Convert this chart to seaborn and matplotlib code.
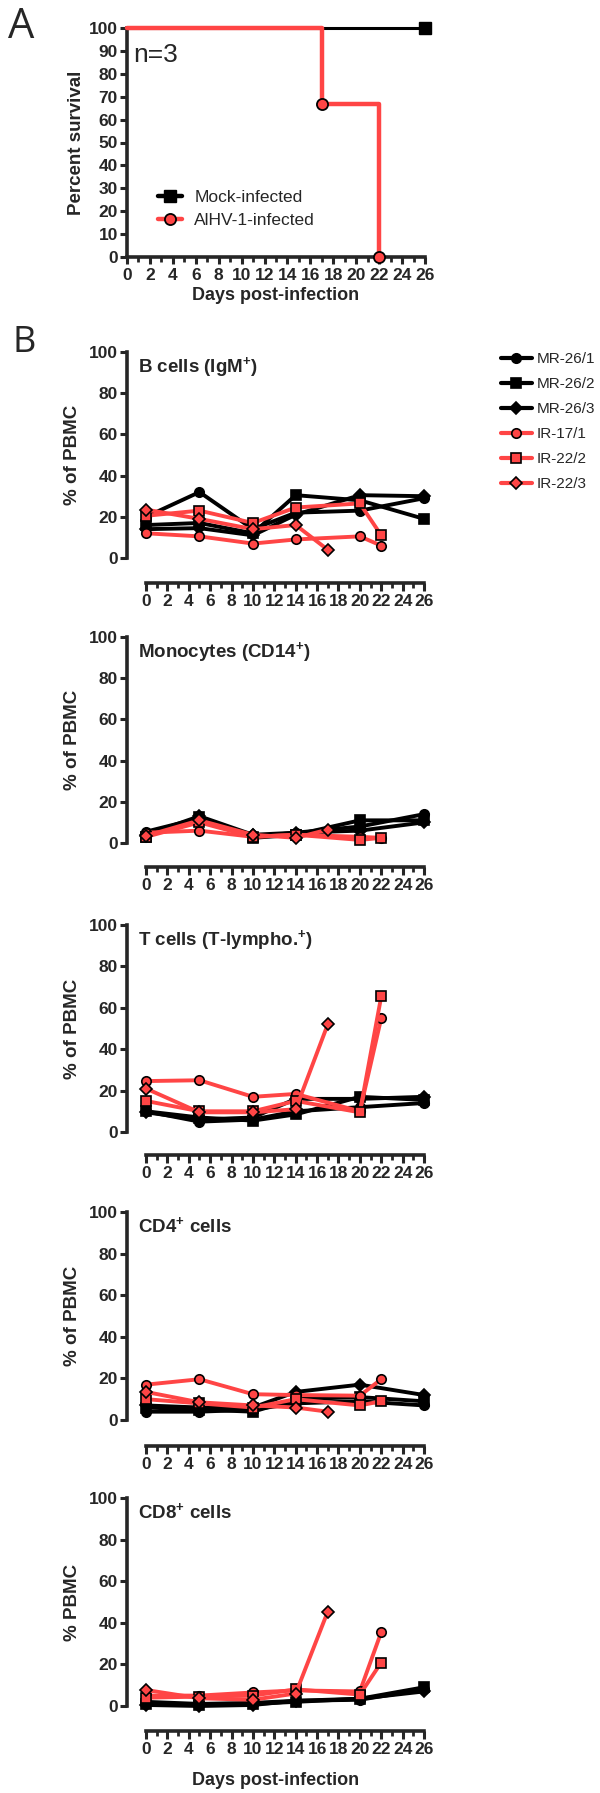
import matplotlib
matplotlib.use("Agg")
import matplotlib.pyplot as plt
import seaborn as sns
import numpy as np
from matplotlib.ticker import MultipleLocator, FixedLocator
from matplotlib.lines import Line2D

# ---------------- DATA ----------------
# Panel A: survival
surv_mock_days = [0, 26]
surv_mock_vals = [100, 100]
surv_inf_days = [0, 17, 17, 22, 22]
surv_inf_vals = [100, 100, 66.7, 66.7, 0]
surv_inf_mark_days = [17, 22]
surv_inf_mark_vals = [66.7, 0]

animals = ["MR-26/1", "MR-26/2", "MR-26/3", "IR-17/1", "IR-22/2", "IR-22/3"]
days_mock = [0, 5, 10, 14, 20, 26]
days_ir = [0, 5, 10, 14, 20, 22]
days_ir3 = [0, 5, 10, 14, 17]
x_ticks = list(range(0, 27, 2))

panel_titles = [r"B cells (IgM$^{+}$)", r"Monocytes (CD14$^{+}$)",
                r"T cells (T-lympho.$^{+}$)", r"CD4$^{+}$ cells", r"CD8$^{+}$ cells"]
panel_ylabels = ["% of PBMC", "% of PBMC", "% of PBMC", "% of PBMC", "% PBMC"]

# B cells
bcell = {
    "MR-26/1": [20, 32, 14, 22, 23, 29],
    "MR-26/2": [16, 17, 12, 30.5, 28, 19],
    "MR-26/3": [14, 14.5, 11, 21, 30.5, 30],
    "IR-17/1": [12, 10.5, 7, 9, 10.5, 6],
    "IR-22/2": [20.5, 23, 17, 24.5, 26.5, 11],
    "IR-22/3": [23.5, 19, 14, 16, 4],
}
# Monocytes
mono = {
    "MR-26/1": [5.5, 12, 3, 5, 8, 14],
    "MR-26/2": [3, 12.5, 2.5, 4, 11, 11],
    "MR-26/3": [4, 13, 4, 5, 6, 10],
    "IR-17/1": [5, 6, 3, 4, 3, 2.5],
    "IR-22/2": [3, 10, 3, 4, 1.5, 2.5],
    "IR-22/3": [3.5, 11, 4, 2.5, 6.5],
}
# T cells
tcell = {
    "MR-26/1": [10, 5, 6, 10, 12, 14],
    "MR-26/2": [10, 7, 5.5, 8.5, 17, 15.5],
    "MR-26/3": [9.5, 6, 7, 16, 16, 17],
    "IR-17/1": [24.6, 25, 17, 18.4, 10, 55],
    "IR-22/2": [15, 10, 10, 15, 9.5, 65.5],
    "IR-22/3": [21, 9.5, 9.5, 11, 52],
}
# CD4
cd4 = {
    "MR-26/1": [4, 4, 5, 8, 9, 7],
    "MR-26/2": [6, 5, 4, 10, 11, 9],
    "MR-26/3": [7, 6, 6, 13.5, 17, 12],
    "IR-17/1": [17, 19.6, 12.4, 12, 11.7, 19.6],
    "IR-22/2": [10, 8, 6, 10, 7, 9],
    "IR-22/3": [13.5, 8.5, 7, 6, 4],
}
# CD8
cd8 = {
    "MR-26/1": [2, 1, 1.5, 2.5, 3, 8],
    "MR-26/2": [1, 0.5, 1, 2, 3.5, 9],
    "MR-26/3": [0.5, 0, 0.5, 2.5, 3.5, 7],
    "IR-17/1": [5, 5, 6.5, 7.5, 7, 35.5],
    "IR-22/2": [4, 4.5, 5, 8, 5.5, 20.9],
    "IR-22/3": [7.7, 3.7, 3, 6, 45.4],
}
panel_data = [bcell, mono, tcell, cd4, cd8]

# ---------------- STYLE ----------------
sns.set_style("ticks")
plt.rcParams["font.family"] = ["Liberation Sans", "DejaVu Sans"]
plt.rcParams["mathtext.fontset"] = "custom"
plt.rcParams["mathtext.rm"] = "Liberation Sans:bold"
plt.rcParams["mathtext.default"] = "rm"

tick_size = 12.5

RED = "#FF4545"
colors = {"MR-26/1": "black", "MR-26/2": "black", "MR-26/3": "black",
          "IR-17/1": RED, "IR-22/2": RED, "IR-22/3": RED}
markers = {"MR-26/1": "o", "MR-26/2": "s", "MR-26/3": "D",
           "IR-17/1": "o", "IR-22/2": "s", "IR-22/3": "D"}
msize = {"o": 6.8, "s": 6.8, "D": 5.8}

W, H = 600, 1793
fig = plt.figure(figsize=(W / 100, H / 100), dpi=100)

def add_ax(top, bottom, left, right):
    return fig.add_axes([left / W, 1 - bottom / H, (right - left) / W, (bottom - top) / H])

def style_ticks(ax):
    for lab in ax.get_xticklabels() + ax.get_yticklabels():
        lab.set_fontweight("bold")
        lab.set_fontsize(tick_size)

# ---------------- PANEL A ----------------
axA = add_ax(28, 257, 127, 425)
sns.lineplot(x=surv_mock_days, y=surv_mock_vals, ax=axA, color="black", linewidth=2.2,
             clip_on=False, zorder=3, sort=False, estimator=None)
axA.plot([26], [100], marker="s", markersize=9, color="black", clip_on=False, zorder=5)
sns.lineplot(x=surv_inf_days, y=surv_inf_vals, ax=axA, color=RED, linewidth=3.2,
             clip_on=False, zorder=4, sort=False, estimator=None)
axA.plot(surv_inf_mark_days, surv_inf_mark_vals, linestyle="none", marker="o", markersize=8,
         markerfacecolor=RED, markeredgecolor="black", markeredgewidth=1.3,
         clip_on=False, zorder=6)
axA.set_xlim(0, 26)
axA.set_ylim(0, 100)
axA.xaxis.set_major_locator(FixedLocator(x_ticks))
axA.xaxis.set_minor_locator(FixedLocator(list(range(0, 27))))
axA.yaxis.set_major_locator(MultipleLocator(10))
for s in ["top", "right"]:
    axA.spines[s].set_visible(False)
for s in ["left", "bottom"]:
    axA.spines[s].set_linewidth(2.6)
axA.tick_params(axis="both", which="major", direction="out", width=2.2, length=5, pad=1.5)
axA.tick_params(axis="x", which="minor", direction="out", width=2.0, length=3.5)
axA.tick_params(axis="x", which="major", pad=3)
style_ticks(axA)
axA.set_xlabel("Days post-infection", fontsize=13, fontweight="bold", labelpad=3)
axA.set_ylabel("Percent survival", fontsize=13.5, fontweight="bold", labelpad=3)
axA.text(0.02, 0.88, "n=3", transform=axA.transAxes, fontsize=19, va="center", ha="left")

hA = [Line2D([], [], color="black", linewidth=3.2, marker="s", markersize=9),
      Line2D([], [], color=RED, linewidth=3.2, marker="o", markersize=8,
             markerfacecolor=RED, markeredgecolor="black", markeredgewidth=1.3)]
axA.legend(hA, ["Mock-infected", "AlHV-1-infected"], loc="center left",
           bbox_to_anchor=(158 / W, 1 - 209 / H), bbox_transform=fig.transFigure,
           frameon=False, fontsize=12.5, handlelength=1.4, handletextpad=0.7,
           labelspacing=0.45, borderaxespad=0, borderpad=0)

fig.text(8 / W, 1 - 38 / H, "A", fontsize=30, family=["Open Sans", "DejaVu Sans"],
         ha="left", va="baseline")
fig.text(12 / W, 1 - 352 / H, "B", fontsize=26, family=["Open Sans", "DejaVu Sans"],
         ha="left", va="baseline")

# ---------------- PANEL B ----------------
geoms = [(352, 558, 25), (637, 843, 24), (925, 1132, 23), (1212, 1420, 26), (1498, 1706, 25)]
xmin = -(146 - 127) / ((424 - 146) / 26)

for i, (top, bot, off) in enumerate(geoms):
    ax = add_ax(top, bot, 127, 424)
    data = panel_data[i]
    for a in animals:
        if a.startswith("MR"):
            d = days_mock
        elif a == "IR-22/3":
            d = days_ir3
        else:
            d = days_ir
        m = markers[a]
        sns.lineplot(x=d, y=data[a], ax=ax, color=colors[a], linewidth=2.8,
                     marker=m, markersize=msize[m],
                     markerfacecolor=colors[a], markeredgecolor="black",
                     markeredgewidth=1.2, clip_on=False,
                     estimator=None, sort=False, legend=False)
    ax.set_xlim(xmin, 26)
    ax.set_ylim(0, 100)
    ax.xaxis.set_major_locator(FixedLocator(x_ticks))
    ax.xaxis.set_minor_locator(FixedLocator(list(range(0, 27))))
    ax.yaxis.set_major_locator(MultipleLocator(20))
    for s in ["top", "right"]:
        ax.spines[s].set_visible(False)
    for s in ["left", "bottom"]:
        ax.spines[s].set_linewidth(2.6)
    ax.spines["bottom"].set_position(("outward", off * 0.72))
    ax.spines["bottom"].set_bounds(0, 26)
    ax.spines["left"].set_bounds(0, 100)
    ax.tick_params(axis="both", which="major", direction="out", width=2.2, length=5, pad=1.5)
    ax.tick_params(axis="x", which="major", length=6, pad=2)
    ax.tick_params(axis="x", which="minor", direction="out", width=2.0, length=3.5)
    style_ticks(ax)
    ax.set_ylabel(panel_ylabels[i], fontsize=13.5, fontweight="bold", labelpad=6)
    ax.set_xlabel("")
    ax.text((138 - 127) / 297, 1 - 20 / (bot - top), panel_titles[i], transform=ax.transAxes,
            fontsize=13.5, fontweight="bold", ha="left", va="baseline")
    if i == 0:
        hs, ls = [], []
        for a in animals:
            m = markers[a]
            hs.append(Line2D([], [], color=colors[a], linewidth=3.0, marker=m,
                             markersize=msize[m], markerfacecolor=colors[a],
                             markeredgecolor="black", markeredgewidth=1.2))
            ls.append(a)
        ax.legend(hs, ls, loc="upper left", bbox_to_anchor=(501 / W, 1 - 352 / H),
                  bbox_transform=fig.transFigure, frameon=False, fontsize=11,
                  handlelength=2.0, handletextpad=0.35, labelspacing=0.72,
                  borderaxespad=0, borderpad=0)
    if i == 4:
        ax.set_xlabel("Days post-infection", fontsize=13, fontweight="bold", labelpad=11)

fig.savefig("out.png", dpi=100)
